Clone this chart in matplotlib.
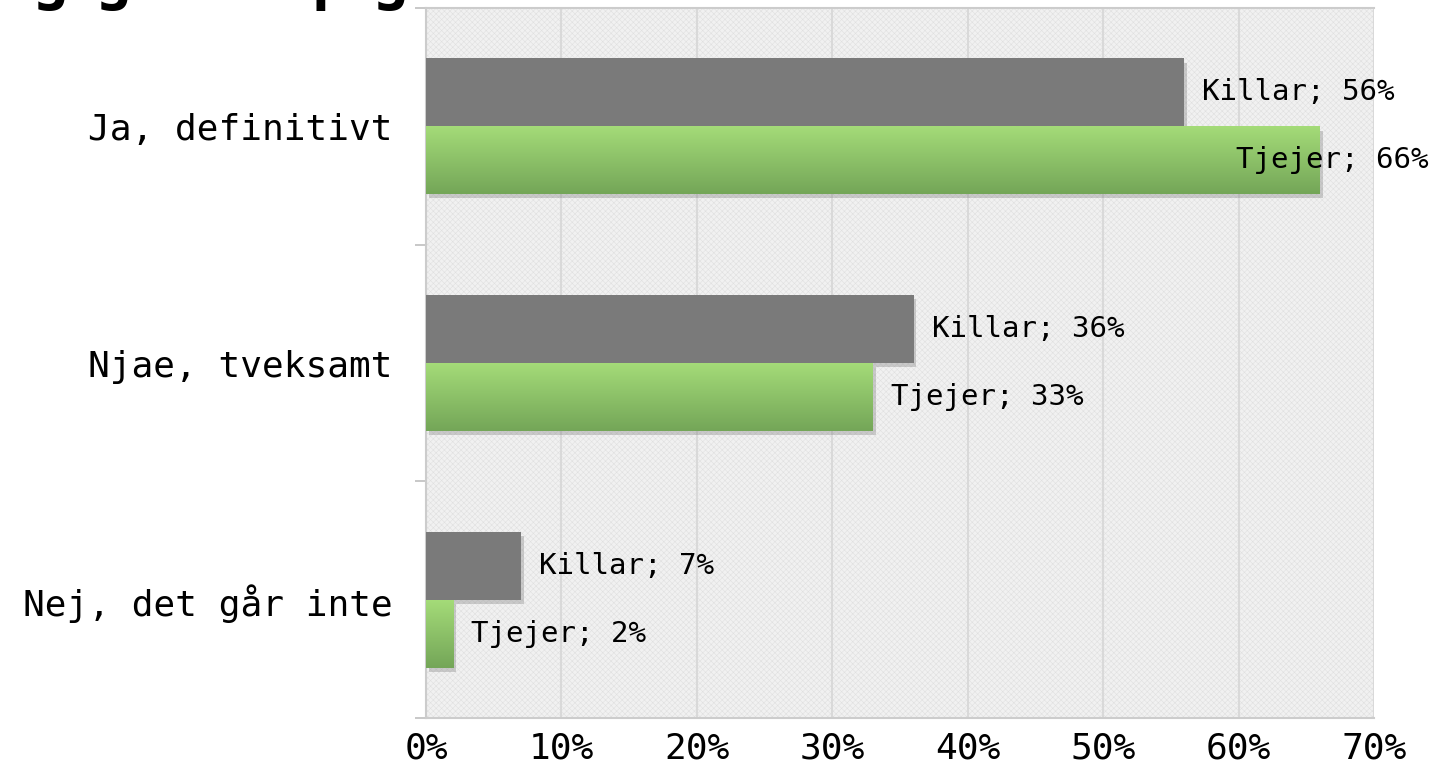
import numpy as np
import matplotlib
matplotlib.use("Agg")
import matplotlib.pyplot as plt
import matplotlib.patheffects as pe
from matplotlib.patches import Rectangle
import matplotlib.transforms as mtransforms

# -----------------------------
# Data
# -----------------------------
categories = ["Ja, definitivt", "Njae, tveksamt", "Nej, det går inte"]
killar = [56, 36, 7]
tjejer = [66, 33, 2]
series_names = ["Killar", "Tjejer"]
xticks = [0, 10, 20, 30, 40, 50, 60, 70]

FONT = "DejaVu Sans Mono"
GRAY = "#7a7a7a"
GREEN_TOP = np.array([0xa4, 0xdb, 0x78]) / 255
GREEN_BOT = np.array([0x74, 0xa6, 0x58]) / 255

plt.rcParams["font.family"] = [FONT]
plt.rcParams["hatch.linewidth"] = 0.4

fig = plt.figure(figsize=(14.32, 7.76), dpi=100)
ax = fig.add_axes([426 / 1432, 1 - 718 / 776, (1374 - 426) / 1432, (718 - 8) / 776])

# textured plot background
ax.set_facecolor("#f1f1f1")
ax.add_patch(Rectangle((0, 0), 1, 1, transform=ax.transAxes, facecolor="none",
                       edgecolor="#e0e0e0", hatch="xxxxxx", linewidth=0, zorder=0))

y = np.arange(len(categories))
h = 0.287
shadow = [pe.SimplePatchShadow(offset=(2, -3), shadow_rgbFace="#808080", alpha=0.35), pe.Normal()]

kb = ax.barh(y - h / 2, killar, height=h, color=GRAY, zorder=3)
tb = ax.barh(y + h / 2, tjejer, height=h, color=GREEN_TOP * 0.5 + GREEN_BOT * 0.5, zorder=3)
for b in list(kb) + list(tb):
    b.set_path_effects(shadow)

# vertical gradient on the green bars
grad = np.linspace(0, 1, 64)[:, None, None] * (GREEN_BOT - GREEN_TOP) + GREEN_TOP
for b in tb:
    x0, y0 = b.get_x(), b.get_y()
    im = ax.imshow(grad, extent=(x0, x0 + b.get_width(), y0 + b.get_height(), y0),
                   aspect="auto", zorder=4, interpolation="bilinear")
    im.set_clip_path(b)

ax.set_xlim(0, 70)
ax.set_ylim(len(categories) - 0.5, -0.5)

# labels
for i, v in enumerate(killar):
    ax.annotate(f"{series_names[0]}; {v}%", (v, y[i] - h / 2), xytext=(13, 0),
                textcoords="offset points", va="center", ha="left", fontsize=21, zorder=6)
blend = mtransforms.blended_transform_factory(fig.transFigure, ax.transData)
for i, v in enumerate(tjejer):
    txt = f"{series_names[1]}; {v}%"
    if v == max(tjejer):
        ax.text(1428 / 1432, y[i] + h / 2, txt, transform=blend, va="center", ha="right",
                fontsize=21, zorder=6)
    else:
        ax.annotate(txt, (v, y[i] + h / 2), xytext=(13, 0),
                    textcoords="offset points", va="center", ha="left", fontsize=21, zorder=6)

# axes styling
ax.set_xticks(xticks)
ax.set_xticklabels([f"{t}%" for t in xticks], fontsize=26)
ax.tick_params(axis="x", length=0, pad=10)
ax.set_yticks(y)
ax.set_yticklabels(categories, fontsize=26)
ax.tick_params(axis="y", which="major", length=0, pad=24)
ax.set_yticks(np.arange(len(categories) + 1) - 0.5, minor=True)
ax.tick_params(axis="y", which="minor", length=8, width=1.2, color="#bfbfbf", direction="out")

ax.grid(axis="x", color="#d9d9d9", linewidth=1.5, zorder=1)
ax.set_axisbelow(True)
for s in ["left", "bottom", "top"]:
    ax.spines[s].set_color("#cccccc")
    ax.spines[s].set_linewidth(1.5)
ax.spines["right"].set_visible(False)

# title, cut off above the figure
for ch, xp in zip("ggpg", [50, 113, 330, 390]):
    fig.text(xp / 1432, 1 + 2 / 776, ch, fontsize=44, ha="center", va="baseline", fontweight="bold",
             clip_on=False)

fig.savefig("out.png", dpi=100)
